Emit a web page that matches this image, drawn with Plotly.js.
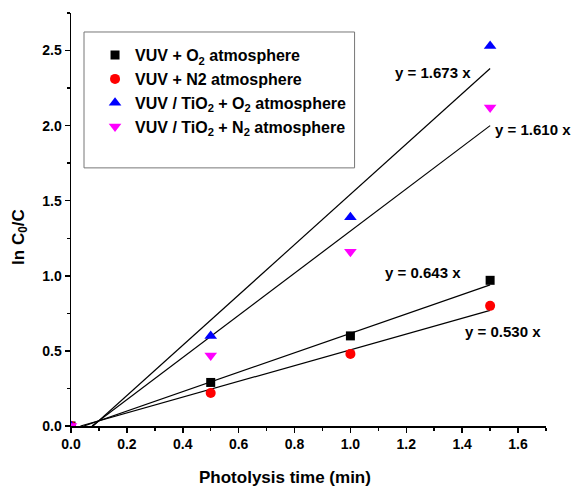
<!DOCTYPE html>
<html>
<head>
<meta charset="utf-8">
<script src="https://cdn.plot.ly/plotly-3.0.1.min.js"></script>
<style>html,body{margin:0;padding:0;background:#fff;}#chart{width:574px;height:486px;}</style>
</head>
<body>
<div id="chart"></div>
<script>
// Data
const timeMin = [0.0, 0.5, 1.0, 1.5];
const vuvO2 = [0.0, 0.29, 0.60, 0.97];
const vuvN2 = [0.0, 0.22, 0.48, 0.80];
const vuvTiO2O2 = [0.0, 0.60, 1.39, 2.53];
const vuvTiO2N2 = [0.0, 0.47, 1.16, 2.12];

// Fitted lines (start, end) as drawn
const fitO2X = [0.046, 1.5], fitO2Y = [0.0, 0.94];
const fitN2X = [0.034, 1.5], fitN2Y = [0.0, 0.77];
const fitTiO2O2X = [0.079, 1.5], fitTiO2O2Y = [0.0, 2.38];
const fitTiO2N2X = [0.075, 1.5], fitTiO2N2Y = [0.0, 2.00];

const seriesNames = [
  'VUV + O<sub>2</sub> atmosphere',
  'VUV + N2 atmosphere',
  'VUV / TiO<sub>2</sub> + O<sub>2</sub> atmosphere',
  'VUV / TiO<sub>2</sub> + N<sub>2</sub> atmosphere'
];
const fitLabels = ['y = 0.643 x', 'y = 0.530 x', 'y = 1.673 x', 'y = 1.610 x'];
const xTitle = 'Photolysis time (min)';
const yTitle = 'ln C<sub>0</sub>/C';

const F = 'Liberation Sans, Arial, sans-serif';
const lineStyle = {color: '#000', width: 1.2};
const fitLine = (x, y) => ({x: x, y: y, mode: 'lines', line: lineStyle, showlegend: false, hoverinfo: 'skip'});

const traces = [
  fitLine(fitO2X, fitO2Y),
  fitLine(fitN2X, fitN2Y),
  fitLine(fitTiO2O2X, fitTiO2O2Y),
  fitLine(fitTiO2N2X, fitTiO2N2Y),
  {x: timeMin, y: vuvO2, mode: 'markers', name: seriesNames[0], legendgroup: 'a',
   marker: {symbol: 'square', size: 9, color: '#000'}},
  {x: timeMin, y: vuvN2, mode: 'markers', name: seriesNames[1], legendgroup: 'b',
   marker: {symbol: 'circle', size: 10, color: '#ff0000'}},
  {x: timeMin, y: vuvTiO2O2, mode: 'markers', name: seriesNames[2], legendgroup: 'c',
   marker: {symbol: 'triangle-up', size: 11, color: '#0000ff'}},
  {x: timeMin, y: vuvTiO2N2, mode: 'markers', name: seriesNames[3], legendgroup: 'd',
   marker: {symbol: 'triangle-down', size: 11, color: '#ff00ff'}}
];

const tickFont = {family: F, size: 14, color: '#000', weight: 700};
const layout = {
  width: 574, height: 486,
  margin: {l: 71, r: 28, t: 13, b: 60},
  paper_bgcolor: '#fff', plot_bgcolor: '#fff',
  font: {family: F, color: '#000'},
  xaxis: {
    range: [0, 1.7], dtick: 0.2, tick0: 0, tickformat: '.1f',
    showgrid: false, zeroline: false, showline: true, linecolor: '#000', linewidth: 1.5,
    ticks: 'outside', ticklen: 5, tickwidth: 1.5, tickcolor: '#000',
    minor: {dtick: 0.1, ticks: 'outside', ticklen: 3, tickwidth: 1.5, tickcolor: '#000', showgrid: false},
    tickfont: tickFont, fixedrange: true
  },
  yaxis: {
    range: [0, 2.75], dtick: 0.5, tick0: 0, tickformat: '.1f',
    showgrid: false, zeroline: false, showline: true, linecolor: '#000', linewidth: 1.5,
    ticks: 'outside', ticklen: 5, tickwidth: 1.5, tickcolor: '#000',
    minor: {dtick: 0.25, ticks: 'outside', ticklen: 3, tickwidth: 1.5, tickcolor: '#000', showgrid: false},
    tickfont: tickFont, fixedrange: true
  },
  showlegend: true,
  legend: {
    x: 0.0506, y: 0.939, xanchor: 'left', yanchor: 'top',
    bgcolor: 'rgba(0,0,0,0)', borderwidth: 0,
    font: {family: F, size: 16, color: '#000', weight: 700},
    tracegroupgap: 4, traceorder: 'normal'
  },
  shapes: [
    {type: 'rect', xref: 'paper', yref: 'paper', x0: 0.0274, x1: 0.597, y0: 0.625, y1: 0.954,
     line: {color: '#777', width: 1}, fillcolor: 'rgba(0,0,0,0)'}
  ],
  annotations: [
    {xref: 'paper', yref: 'paper', x: 0.450, y: -0.1235, text: xTitle, showarrow: false,
     xanchor: 'center', yanchor: 'middle', font: {family: F, size: 17, weight: 700}},
    {xref: 'paper', yref: 'paper', x: -0.1076, y: 0.4576, text: yTitle, showarrow: false, textangle: -90,
     xanchor: 'center', yanchor: 'middle', font: {family: F, size: 17, weight: 700}},
    {x: 1.259, y: 1.019, text: fitLabels[0], showarrow: false, font: {family: F, size: 15, weight: 700}},
    {x: 1.546, y: 0.626, text: fitLabels[1], showarrow: false, font: {family: F, size: 15, weight: 700}},
    {x: 1.295, y: 2.357, text: fitLabels[2], showarrow: false, font: {family: F, size: 15, weight: 700}},
    {x: 1.654, y: 1.971, text: fitLabels[3], showarrow: false, font: {family: F, size: 15, weight: 700}}
  ]
};

Plotly.newPlot('chart', traces, layout, {staticPlot: true, displayModeBar: false});
</script>
</body>
</html>
